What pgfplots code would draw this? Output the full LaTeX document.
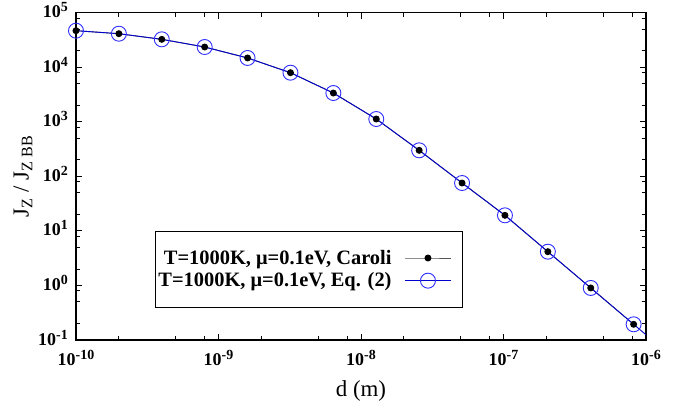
\documentclass[border=0pt]{standalone}
\usepackage{fontspec}
\setmainfont{Liberation Serif}
\usepackage{pgfplots}
\pgfplotsset{compat=1.18}

\definecolor{lineblue}{RGB}{0,0,205}
\definecolor{markblue}{RGB}{45,45,255}
\definecolor{legendgray}{RGB}{85,85,85}

% power of ten for tick labels, bold serif
\newcommand\tenpow[1]{\mbox{\fontsize{18}{19}\selectfont\bfseries 10\raisebox{6bp}{\fontsize{14}{15}\selectfont #1}}}

\begin{document}
\begin{tikzpicture}
\useasboundingbox (0,0) rectangle (677bp,403bp);
\begin{axis}[
  at={(76bp,63bp)}, anchor=south west,
  scale only axis, width=570bp, height=327.3bp,
  xmode=log, ymode=log,
  xmin=1e-10, xmax=1e-6, ymin=1e-1, ymax=1e5,
  xtick={1e-10,1e-9,1e-8,1e-7,1e-6},
  xticklabels={\tenpow{-10},\tenpow{-9},\tenpow{-8},\tenpow{-7},\tenpow{-6}},
  ytick={1e-1,1e0,1e1,1e2,1e3,1e4,1e5},
  yticklabels={\tenpow{-1},\tenpow{0},\tenpow{1},\tenpow{2},\tenpow{3},\tenpow{4},\tenpow{5}},
  minor xtick={2e-10,5e-10,8e-10,2e-9,5e-9,8e-9,2e-8,5e-8,8e-8,2e-7,5e-7,8e-7},
  minor ytick={0.2,0.5,0.8,2,5,8,20,50,80,200,500,800,2e3,5e3,8e3,2e4,5e4,8e4},
  tick align=inside,
  major tick length=6bp, minor tick length=4bp,
  every tick/.style={black, line width=0.9bp},
  axis line style={line width=1.2bp},
  tick label style={inner sep=0pt},
  xticklabel style={anchor=base, yshift=-25.7bp},
  yticklabel style={anchor=base east, xshift=-8bp, yshift=-5bp},
  xlabel={d (m)},
  ylabel={J\textsubscript{Z} / J\textsubscript{Z BB}},
  label style={font=\fontsize{23}{27}\selectfont},
  xlabel style={at={(axis description cs:0.5,0)}, anchor=base, yshift=-56bp},
  ylabel style={at={(axis description cs:-0.093,0.5)}, anchor=center},
  legend style={at={(0.1386,0.334)}, anchor=north west, draw=black, line width=1bp,
    font=\fontsize{20.5}{24}\selectfont\bfseries, inner xsep=1bp, inner ysep=17bp,
    row sep=3bp, /tikz/every odd column/.append style={column sep=11bp}},
  legend cell align=right, legend plot pos=right,
  legend image code/.code={%
    \draw[mark repeat=2,mark phase=2,#1] plot coordinates {(0bp,0bp) (23bp,0bp) (46bp,0bp)};
    \draw[draw=none] (46bp,0bp) -- (57bp,0bp);},
]
% Caroli formula
\addplot[legendgray, line width=0.9bp, mark=*, mark size=3bp, mark options={black, fill=black}]
  coordinates {
  (1e-10,46800) (2e-10,41200) (4e-10,32500) (8e-10,23500)
  (1.6e-9,14800) (3.2e-9,7950) (6.4e-9,3370) (1.28e-8,1125)
  (2.56e-8,300) (5.12e-8,75.5) (1.024e-7,19.3) (2.048e-7,4.16)
  (4.096e-7,0.90) (8.192e-7,0.194)};
\addlegendentry{T=1000K, μ=0.1eV, Caroli}
% Eq. (2)
\addplot[lineblue, line width=0.9bp, mark=o, mark size=7.5bp, mark options={markblue, line width=0.9bp}]
  coordinates {
  (1e-10,46800) (2e-10,41200) (4e-10,32500) (8e-10,23500)
  (1.6e-9,14800) (3.2e-9,7950) (6.4e-9,3370) (1.28e-8,1125)
  (2.56e-8,300) (5.12e-8,75.5) (1.024e-7,19.3) (2.048e-7,4.16)
  (4.096e-7,0.90) (8.192e-7,0.194)};
\addlegendentry{T=1000K, μ=0.1eV, Eq. (2)}
% curves continue past the right edge
\addplot[lineblue, line width=0.9bp, forget plot]
  coordinates {(8.192e-7,0.194) (1.6384e-6,0.042)};
\end{axis}
\end{tikzpicture}
\end{document}
